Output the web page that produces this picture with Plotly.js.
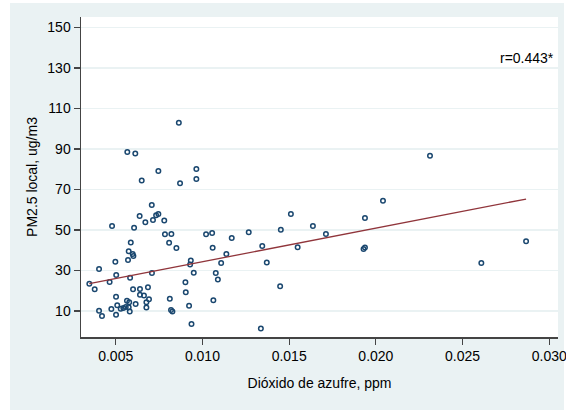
<!DOCTYPE html>
<html>
<head>
<meta charset="utf-8">
<script src="https://cdn.plot.ly/plotly-3.0.1.min.js"></script>
<style>
  html, body { margin: 0; padding: 0; background: #ffffff; width: 566px; height: 412px; overflow: hidden; }
  #chart { position: absolute; left: 0; top: 0; width: 566px; height: 412px; }
</style>
</head>
<body>
<div id="chart"></div>
<script>
// Sulfur dioxide (ppm) for each observation
const so2 = [
  0.00567, 0.00613, 0.00650, 0.00746, 0.00864, 0.00871, 0.00965, 0.00965,
  0.00708, 0.00638, 0.00746, 0.00733, 0.00715, 0.00671, 0.00780, 0.00479,
  0.00606, 0.00784, 0.00821, 0.00808, 0.00850, 0.00587, 0.00575, 0.00598,
  0.00602, 0.00571, 0.00498, 0.00404, 0.00933, 0.00929, 0.00950, 0.00709,
  0.00503, 0.00583, 0.00465, 0.00348, 0.00379, 0.00902, 0.00904, 0.00812,
  0.00923, 0.00937, 0.00819, 0.00827, 0.00600, 0.00640, 0.00686, 0.00640,
  0.00663, 0.00692, 0.00677, 0.00677, 0.00502, 0.00615, 0.00565, 0.00578,
  0.00509, 0.00475, 0.00529, 0.00544, 0.00558, 0.00575, 0.00581, 0.00502,
  0.00404, 0.00421, 0.01937, 0.01510, 0.01637, 0.01452, 0.01712, 0.01267,
  0.01021, 0.01056, 0.01169, 0.01059, 0.01345, 0.01549, 0.01929, 0.01937,
  0.01138, 0.01108, 0.01371, 0.01077, 0.01089, 0.01448, 0.01063, 0.01337,
  0.02312, 0.02041, 0.02866, 0.02608
];
// Local PM2.5 (ug/m3) for each observation
const pm25 = [
  88.5, 87.8, 74.5, 79.1, 103.0, 73.1, 80.1, 75.2,
  62.3, 56.9, 57.9, 57.3, 54.9, 53.8, 54.7, 52.0,
  51.1, 47.9, 48.0, 43.7, 41.1, 43.8, 39.5, 38.1,
  37.2, 35.2, 34.3, 30.7, 35.0, 33.0, 28.9, 28.8,
  27.8, 26.4, 24.3, 23.5, 20.7, 24.2, 19.2, 16.1,
  12.6, 3.6, 10.5, 9.7, 20.7, 20.9, 21.7, 18.0,
  17.6, 15.8, 14.3, 11.7, 17.1, 13.5, 15.1, 14.3,
  12.8, 11.0, 11.1, 11.5, 12.0, 11.8, 9.8, 8.2,
  10.1, 7.5, 55.9, 57.9, 52.0, 50.1, 48.0, 48.9,
  47.9, 48.5, 46.0, 41.3, 42.1, 41.5, 40.6, 41.4,
  38.1, 33.7, 34.0, 28.8, 25.5, 22.2, 15.3, 1.3,
  86.7, 64.4, 44.4, 33.7
];
// Fitted line end points
const fitX = [0.00348, 0.02866];
const fitY = [23.5, 65.3];
// Axis ticks
const xTicks = [0.005, 0.010, 0.015, 0.020, 0.025, 0.030];
const xTickLabels = ["0.005", "0.010", "0.015", "0.020", "0.025", "0.030"];
const yTicks = [10, 30, 50, 70, 90, 110, 130, 150];
const yTickLabels = ["10", "30", "50", "70", "90", "110", "130", "150"];
const corrLabel = "r=0.443*";
const xTitle = "Dióxido de azufre, ppm";
const yTitle = "PM2.5 local, ug/m3";

const navy = "#1A476F";
const maroon = "#90353B";
const bg = "#EAF2F3";
const font = "Liberation Sans, Arial, sans-serif";

const traces = [
  {
    x: so2, y: pm25, type: "scatter", mode: "markers",
    marker: { symbol: "circle-open", size: 4.5, color: navy, line: { color: navy, width: 1.5 } },
    hoverinfo: "skip", showlegend: false
  },
  {
    x: fitX, y: fitY, type: "scatter", mode: "lines",
    line: { color: maroon, width: 1.3 },
    hoverinfo: "skip", showlegend: false
  }
];

const layout = {
  width: 566, height: 412,
  margin: { l: 81, r: 8, t: 17, b: 75, pad: 0 },
  paper_bgcolor: "#ffffff",
  plot_bgcolor: "#ffffff",
  font: { family: font, size: 14, color: "#000000" },
  showlegend: false,
  xaxis: {
    range: [0.0030, 0.0305],
    tickmode: "array", tickvals: xTicks, ticktext: xTickLabels,
    ticks: "outside", ticklen: 6, tickwidth: 1.2, tickcolor: "#444444",
    ticklabeloverflow: "allow",
    showgrid: false, zeroline: false,
    showline: true, linecolor: "#444444", linewidth: 1.5,
    tickfont: { family: font, size: 14, color: "#000000" },
    title: { text: xTitle, font: { family: font, size: 14, color: "#000000" }, standoff: 15 }
  },
  yaxis: {
    range: [-2.84, 155.2],
    tickmode: "array", tickvals: yTicks, ticktext: yTickLabels,
    ticks: "outside", ticklen: 6, tickwidth: 1.2, tickcolor: "#444444",
    showgrid: true, gridcolor: bg, gridwidth: 1.5,
    zeroline: false,
    showline: true, linecolor: "#444444", linewidth: 1.5,
    tickfont: { family: font, size: 14, color: "#000000" },
    title: { text: yTitle, font: { family: font, size: 14, color: "#000000" }, standoff: 6 }
  },
  shapes: [
    { type: "rect", xref: "paper", yref: "paper", layer: "below",
      x0: -0.1488, x1: 1.0126, y0: -0.228, y1: 1.04375,
      fillcolor: bg, line: { width: 0 } },
    { type: "rect", xref: "paper", yref: "paper", layer: "below",
      x0: 0, x1: 1, y0: 0, y1: 1,
      fillcolor: "#ffffff", line: { width: 0 } }
  ],
  annotations: [
    {
      text: corrLabel, xref: "paper", yref: "paper",
      x: 0.996, y: 0.873, xanchor: "right", yanchor: "middle",
      showarrow: false, font: { family: font, size: 14, color: "#000000" }
    }
  ]
};

Plotly.newPlot("chart", traces, layout, { displayModeBar: false, staticPlot: true });
</script>
</body>
</html>
